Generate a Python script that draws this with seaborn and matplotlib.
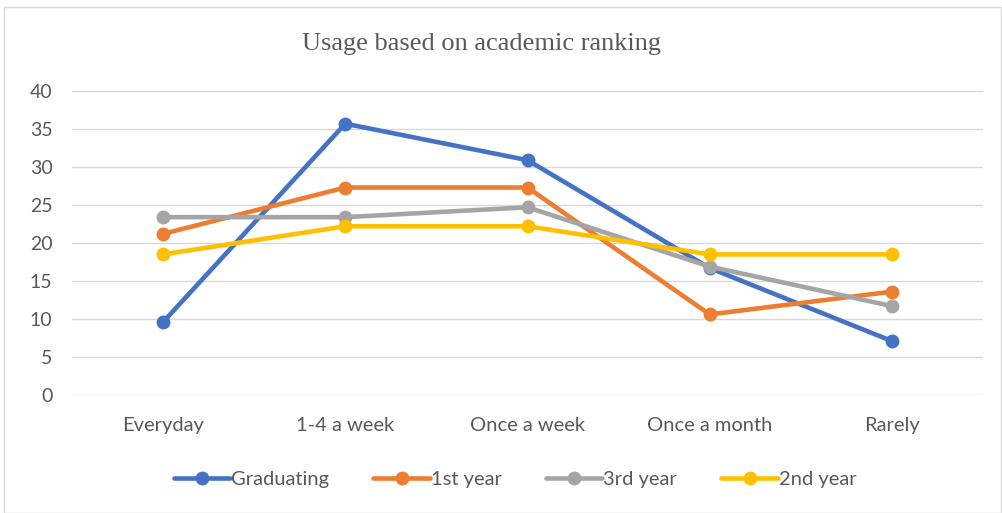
import pandas as pd
import seaborn as sns
import matplotlib.pyplot as plt
from matplotlib.patches import Rectangle

sns.set_theme(style="white")
plt.rcParams['font.family'] = ['Lato', 'DejaVu Sans']

# data
categories = ['Everyday', '1-4 a week', 'Once a week', 'Once a month', 'Rarely']
graduating = [9.6, 35.7, 30.9, 16.7, 7.1]
first_year = [21.2, 27.3, 27.3, 10.6, 13.6]
third_year = [23.4, 23.4, 24.7, 16.9, 11.7]
second_year = [18.5, 22.2, 22.2, 18.5, 18.5]

series = {
    'Graduating': graduating,
    '1st year': first_year,
    '3rd year': third_year,
    '2nd year': second_year,
}
colors = ['#4472C4', '#ED7D31', '#A5A5A5', '#FFC000']

df = pd.DataFrame([
    {'category': c, 'value': v, 'group': g}
    for g, vals in series.items()
    for c, v in zip(categories, vals)
])

fig = plt.figure(figsize=(10.02, 5.13), dpi=100)
ax = fig.add_axes([72 / 1002, 1 - 395 / 513, (983 - 72) / 1002, (395 - 91) / 513])

sns.lineplot(data=df, x='category', y='value', hue='group', hue_order=list(series),
             palette=colors, marker='o', markersize=10, markeredgewidth=0,
             linewidth=3.3, sort=False, ax=ax)

ax.set_xlim(-0.5, 4.5)
ax.set_ylim(0, 40)
ax.set_yticks(range(0, 41, 5))
ax.grid(axis='y', color='#D9D9D9', linewidth=1)
ax.set_axisbelow(True)
for s in ax.spines.values():
    s.set_visible(False)
ax.tick_params(axis='x', length=0, labelsize=14.5, colors='#595959', pad=16)
ax.tick_params(axis='y', length=0, labelsize=14, colors='#595959', pad=14)
ax.set_xlabel('')
ax.set_ylabel('')

fig.text(481 / 1002, 1 - 44 / 513, 'Usage based on academic ranking', ha='center', va='center',
         fontsize=19, color='#595959', family='Liberation Serif')

handles, labels = ax.get_legend_handles_labels()
ax.legend(handles, labels, loc='center', bbox_to_anchor=(515 / 1002, 1 - 479 / 513),
          bbox_transform=fig.transFigure, ncol=4, frameon=False, fontsize=14.5,
          handlelength=2.8, columnspacing=2.2, handletextpad=0.05, labelcolor='#595959')

fig.patches.append(Rectangle((4 / 1002, 0), 1 - 5 / 1002, 1 - 7 / 513, transform=fig.transFigure,
                             fill=False, edgecolor='#D9D9D9', linewidth=1))

fig.savefig('out.png', dpi=100)
